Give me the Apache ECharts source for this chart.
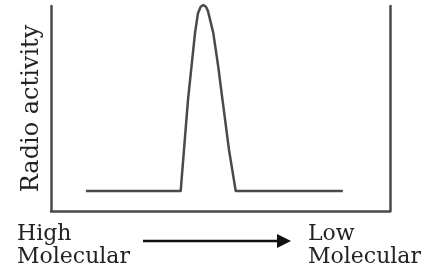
<!DOCTYPE html>
<html>
<head>
<meta charset="utf-8">
<script src="https://cdn.jsdelivr.net/npm/echarts@6/dist/echarts.min.js"></script>
<style>
  html, body { margin: 0; padding: 0; background: #fff; }
  #chart { width: 444px; height: 278px; }
</style>
</head>
<body>
<div id="chart"></div>
<script>
// elution position (left = high molecular, right = low molecular)
var position = [10.3, 38.26, 40.41, 42.48, 43.36, 44.16, 44.93, 45.72, 46.31, 47.88, 49.35, 50.59, 52.51, 54.48, 86.1];
// radio activity
var activity = [9.8, 9.8, 54.2, 86.8, 96.5, 99.6, 100.5, 99.6, 97.5, 86.8, 70.2, 54.2, 29.8, 9.8, 9.8];

var yTitle = 'Radio activity';
var leftLabel = 'High\nMolecular';
var rightLabel = 'Low\nMolecular';

var lineColor = '#4a4a4a';
var textColor = '#222';
var serif = '"DejaVu Serif", "Liberation Serif", serif';

var chart = echarts.init(document.getElementById('chart'));

var points = [];
for (var i = 0; i < position.length; i++) {
    points.push([position[i], activity[i]]);
}

var option = {
    animation: false,
    grid: { left: 51, right: 54, top: 6, bottom: 67 },
    xAxis: {
        type: 'value', min: 0, max: 100,
        axisLine: { show: true, lineStyle: { color: lineColor, width: 2.5 } },
        axisTick: { show: false },
        axisLabel: { show: false },
        splitLine: { show: false }
    },
    yAxis: [{
        type: 'value', min: 0, max: 100,
        name: yTitle,
        nameLocation: 'middle',
        nameGap: 7,
        nameTextStyle: { fontFamily: serif, fontSize: 24, color: textColor },
        axisLine: { show: true, onZero: false, lineStyle: { color: lineColor, width: 2.5 } },
        axisTick: { show: false },
        axisLabel: { show: false },
        splitLine: { show: false }
    }, {
        type: 'value', min: 0, max: 100,
        position: 'right',
        axisLine: { show: true, onZero: false, lineStyle: { color: lineColor, width: 2.5 } },
        axisTick: { show: false },
        axisLabel: { show: false },
        splitLine: { show: false }
    }],
    series: [{
        type: 'line',
        data: points,
        clip: false,
        symbol: 'none',
        lineStyle: { color: lineColor, width: 2.5, join: 'round' }
    }],
    graphic: [
        { type: 'text', left: 17, top: 223,
          style: { text: leftLabel, font: '22px ' + serif, fill: textColor, lineHeight: 23 } },
        { type: 'text', left: 308, top: 223,
          style: { text: rightLabel, font: '22px ' + serif, fill: textColor, lineHeight: 23 } },
        { type: 'line', shape: { x1: 143, y1: 241, x2: 280, y2: 241 },
          style: { stroke: '#111', lineWidth: 2.5 } },
        { type: 'polygon', shape: { points: [[277, 234], [291, 241], [277, 248]] },
          style: { fill: '#111' } }
    ]
};

chart.setOption(option);
</script>
</body>
</html>
